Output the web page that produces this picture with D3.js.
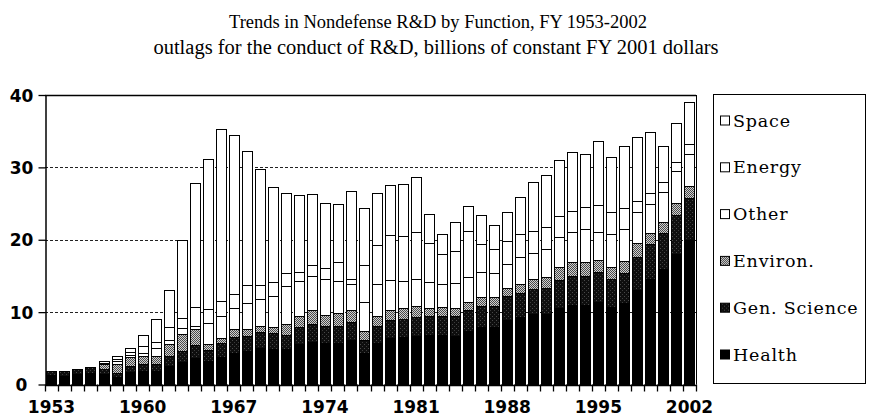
<!DOCTYPE html>
<html lang="en">
<head>
<meta charset="utf-8">
<title>Trends in Nondefense R&amp;D by Function</title>
<script src="https://d3js.org/d3.v7.min.js"></script>
<style>
  body { margin:0; background:#fff; }
  .title { font-family:"Liberation Serif", serif; fill:#000; }
  .axislab { font-family:"DejaVu Sans", sans-serif; font-size:17px; font-weight:bold; fill:#000; }
  .legend text { font-family:"DejaVu Serif", serif; font-size:17.5px; letter-spacing:0.8px; fill:#000; }
</style>
</head>
<body>
<script>

// Canvas and plot frame
const w = 872, h = 419;
const plotLeft = 45, plotRight = 696, plotTop = 95, plotBottom = 384.5;

// Data: outlays in billions of constant FY 2001 dollars
var years = d3.range(1953, 2003);
var xLabels = [1953, 1960, 1967, 1974, 1981, 1988, 1995, 2002];
var yTicks = [0, 10, 20, 30, 40];
var keys = ["Health", "Gen. Science", "Environ.", "Other", "Energy", "Space"];

var health = [1.35, 1.2, 1.45, 1.65, 1.4, 1.0, 1.7, 1.8, 1.9, 2.6,
              3.1, 3.7, 3.2, 3.85, 4.4, 4.6, 5.0, 4.95, 4.9, 5.65,
              5.9, 5.75, 5.75, 6.2, 4.3, 5.75, 6.4, 6.5, 6.7, 6.8,
              6.8, 6.7, 7.35, 7.9, 7.9, 8.9, 9.3, 9.7, 9.8, 10.6,
              11.0, 11.0, 11.4, 10.7, 11.3, 13.1, 14.6, 15.9, 18.0, 19.9];
var genScience = [0.5, 0.6, 0.7, 0.8, 0.8, 0.6, 0.9, 1.0, 1.0, 1.3,
                  1.5, 1.8, 1.6, 1.9, 2.1, 2.1, 2.2, 2.1, 2.0, 2.3,
                  2.4, 2.3, 2.3, 2.4, 1.8, 2.3, 2.5, 2.5, 2.6, 2.6,
                  2.6, 2.7, 2.9, 3.0, 3.0, 3.3, 3.4, 3.5, 3.6, 3.9,
                  4.0, 4.0, 4.1, 3.9, 4.1, 4.5, 4.8, 5.0, 5.4, 5.8];
var environ = [0, 0, 0, 0, 0.6, 1.3, 1.2, 1.2, 1.0, 1.7,
               2.4, 2.2, 0.85, 0.65, 1.1, 0.9, 0.85, 0.9, 1.4, 1.5,
               2.0, 1.55, 1.85, 1.7, 1.35, 1.35, 1.4, 1.6, 1.6, 1.2,
               1.3, 1.2, 1.15, 1.2, 1.2, 1.1, 1.2, 1.4, 1.5, 1.7,
               1.9, 1.9, 1.7, 1.7, 1.7, 1.9, 1.5, 1.5, 1.7, 1.7];
var other = [0, 0, 0, 0, 0.1, 0.3, 0.3, 0.4, 1.15, 0.6,
             0.8, 0.4, 2.85, 3.0, 3.0, 3.7, 3.75, 4.25, 5.3, 4.8,
             4.7, 5.0, 4.45, 3.6, 3.95, 4.5, 4.1, 3.75, 3.7, 3.5,
             3.2, 3.45, 3.5, 3.4, 3.3, 3.3, 3.7, 3.6, 3.8, 4.2,
             4.2, 4.6, 3.9, 4.5, 4.4, 4.3, 4.0, 4.2, 4.4, 4.5];
var energy = [0, 0, 0, 0, 0.1, 0.3, 0.4, 0.9, 0.85, 1.7,
              1.4, 2.6, 1.9, 2.1, 1.95, 2.4, 1.95, 2.0, 1.85, 1.3,
              1.5, 1.5, 2.55, 0.7, 5.15, 5.4, 6.3, 6.15, 6.5, 5.4,
              4.1, 4.35, 6.3, 3.95, 3.3, 3.2, 3.2, 3.0, 3.0, 2.9,
              2.9, 3.0, 3.7, 3.0, 2.9, 1.5, 1.5, 1.4, 1.3, 1.3];
var space = [0, 0, 0, 0, 0.2, 0.5, 0.6, 1.6, 3.1, 5.2,
             10.7, 17.1, 20.7, 23.8, 21.95, 18.5, 16.0, 13.1, 11.05, 10.6,
             9.8, 9.0, 8.0, 12.2, 7.8, 7.1, 6.9, 7.2, 7.6, 4.1,
             2.8, 4.1, 3.4, 3.95, 3.3, 4.0, 5.1, 6.8, 7.3, 7.7,
             8.1, 7.4, 8.9, 7.6, 8.5, 8.9, 8.5, 5.0, 5.4, 5.8];

var table = years.map((y, i) => ({
  year: y,
  "Health": health[i],
  "Gen. Science": genScience[i],
  "Environ.": environ[i],
  "Other": other[i],
  "Energy": energy[i],
  "Space": space[i]
}));

var fills = {
  "Health": "#000",
  "Gen. Science": "url(#genSci)",
  "Environ.": "url(#environ)",
  "Other": "#fff",
  "Energy": "#fff",
  "Space": "#fff"
};

// Create the svg canvas
var svg = d3.select("body")
            .append("svg")
            .attr("width", w)
            .attr("height", h);

// Fill patterns for the shaded functions
var defs = svg.append("defs");
var gs = defs.append("pattern")
             .attr("id", "genSci")
             .attr("patternUnits", "userSpaceOnUse")
             .attr("width", 4).attr("height", 4);
gs.append("rect").attr("width", 4).attr("height", 4).attr("fill", "#0e0e0e");
gs.append("rect").attr("x", 0).attr("y", 0).attr("width", 1).attr("height", 1).attr("fill", "#4a4a4a");
gs.append("rect").attr("x", 2).attr("y", 2).attr("width", 1).attr("height", 1).attr("fill", "#3c3c3c");

var ev = defs.append("pattern")
             .attr("id", "environ")
             .attr("patternUnits", "userSpaceOnUse")
             .attr("width", 2).attr("height", 2);
ev.append("rect").attr("width", 2).attr("height", 2).attr("fill", "#cfcfcf");
ev.append("rect").attr("x", 0).attr("y", 0).attr("width", 1).attr("height", 1).attr("fill", "#4a4a4a");
ev.append("rect").attr("x", 1).attr("y", 1).attr("width", 1).attr("height", 1).attr("fill", "#4a4a4a");

// Scales
var xScale = d3.scaleBand()
               .domain(years)
               .range([plotLeft, plotRight])
               .paddingInner(0.22)
               .paddingOuter(0.11);

var yScale = d3.scaleLinear()
               .domain([0, 40])
               .range([plotBottom, plotTop]);

var crisp = v => Math.round(v) + 0.5;

// Title
svg.append("text").attr("class", "title")
   .attr("x", 438).attr("y", 28).attr("text-anchor", "middle")
   .style("font-size", "18.5px")
   .text("Trends in Nondefense R&D by Function, FY 1953-2002");
svg.append("text").attr("class", "title")
   .attr("x", 436).attr("y", 54).attr("text-anchor", "middle")
   .style("font-size", "20.5px")
   .text("outlags for the conduct of R&D, billions of constant FY 2001 dollars");

// Dotted gridlines
svg.append("g")
   .selectAll("line")
   .data(yTicks.filter(d => d > 0 && d < 40))
   .join("line")
   .attr("x1", plotLeft).attr("x2", plotRight)
   .attr("y1", d => crisp(yScale(d))).attr("y2", d => crisp(yScale(d)))
   .attr("stroke", "#222")
   .attr("stroke-dasharray", "3,2");

// Stacked bars
var series = d3.stack().keys(keys)(table);

svg.append("g")
   .selectAll("g")
   .data(series)
   .join("g")
   .attr("fill", d => fills[d.key])
   .selectAll("rect")
   .data(d => d.filter(s => s[1] > s[0]))
   .join("rect")
   .attr("x", d => crisp(xScale(d.data.year)))
   .attr("y", d => crisp(yScale(d[1])))
   .attr("width", Math.round(xScale.bandwidth()))
   .attr("height", d => Math.max(0, crisp(yScale(d[0])) - crisp(yScale(d[1]))))
   .attr("stroke", "#000")
   .attr("stroke-width", 1);

// Frame: top and right edges
svg.append("line")
   .attr("x1", plotLeft).attr("x2", plotRight)
   .attr("y1", crisp(yScale(40))).attr("y2", crisp(yScale(40)))
   .attr("stroke", "#000").attr("stroke-width", 1.3);
svg.append("line")
   .attr("x1", crisp(plotRight)).attr("x2", crisp(plotRight))
   .attr("y1", yScale(40)).attr("y2", yScale(0))
   .attr("stroke", "#000");

// Y axis
var yAxis = svg.append("g")
   .attr("transform", "translate(" + crisp(plotLeft) + ",0)")
   .call(d3.axisLeft(yScale).tickValues(yTicks).tickSize(7).tickSizeOuter(0));
yAxis.select(".domain").attr("stroke-width", 1.5);
yAxis.selectAll(".tick line").attr("stroke-width", 1.3);
yAxis.selectAll(".tick text")
     .attr("class", "axislab")
     .attr("x", -24)
     .attr("dy", "0.36em")
     .style("text-anchor", "middle");

// X axis: baseline, ticks between the bars, labels every 7 years
svg.append("line")
   .attr("x1", plotLeft).attr("x2", plotRight)
   .attr("y1", crisp(yScale(0))).attr("y2", crisp(yScale(0)))
   .attr("stroke", "#000").attr("stroke-width", 1.5);

svg.append("g")
   .selectAll("line")
   .data(d3.range(years.length + 1))
   .join("line")
   .attr("x1", i => crisp(plotLeft + i * xScale.step()))
   .attr("x2", i => crisp(plotLeft + i * xScale.step()))
   .attr("y1", yScale(0)).attr("y2", yScale(0) + 7)
   .attr("stroke", "#000").attr("stroke-width", 1.3);

svg.append("g")
   .selectAll("text")
   .data(xLabels)
   .join("text")
   .attr("class", "axislab")
   .attr("x", d => xScale(d) + xScale.bandwidth() / 2)
   .attr("y", 413)
   .attr("text-anchor", "middle")
   .text(d => d);

// Legend
var legend = svg.append("g").attr("class", "legend");
legend.append("rect")
      .attr("x", 713.5).attr("y", 94.5)
      .attr("width", 152).attr("height", 289)
      .attr("fill", "none").attr("stroke", "#000");

keys.slice().reverse().forEach((k, i) => {
  var g = legend.append("g")
                .attr("transform", "translate(720," + (126.5 + 46.8 * i) + ")");
  g.append("rect")
   .attr("x", 0.5).attr("y", -10.5)
   .attr("width", 9).attr("height", 9)
   .attr("fill", fills[k])
   .attr("stroke", "#000");
  g.append("text")
   .attr("x", 13)
   .attr("y", 0)
   .text(k);
});

</script>
</body>
</html>
